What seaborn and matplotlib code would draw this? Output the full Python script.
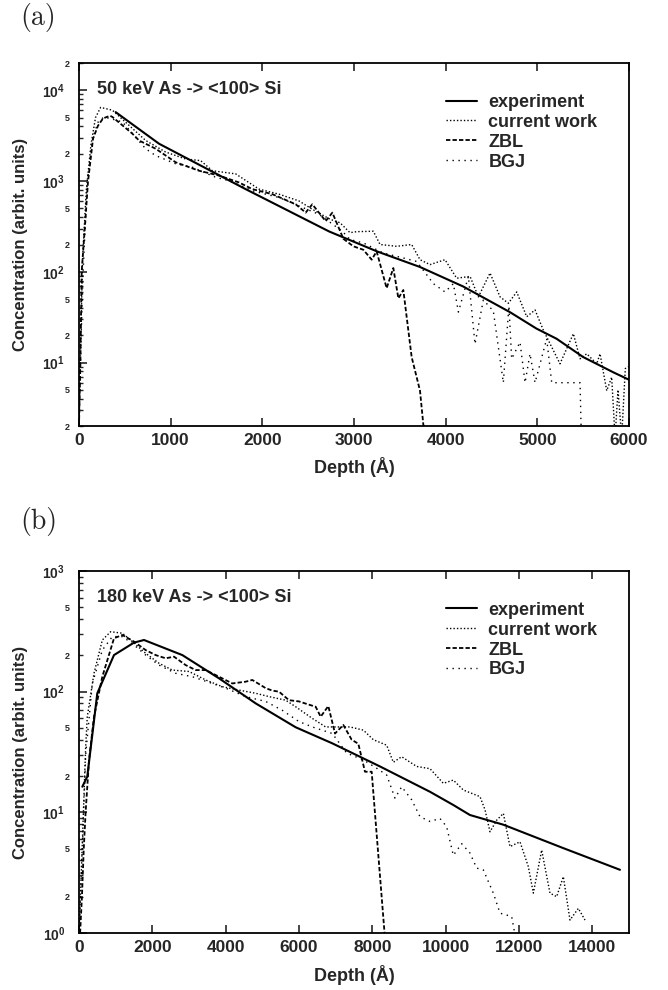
import numpy as np
import matplotlib
matplotlib.use('Agg')
import matplotlib.pyplot as plt
import matplotlib.ticker as mticker
import seaborn as sns

# (a) 50 keV As -> <100> Si
exp_a_depth = [400, 873, 1818, 2730, 3250, 3720, 4190, 4700, 4990, 5210, 5500, 5830, 6010]
exp_a_conc = [5750, 2580, 815, 278, 168, 113, 69, 36, 23.7, 18.3, 11.5, 7.8, 6.4]

cur_a_depth = [0, 20, 40, 80, 130, 180, 236, 364, 545, 727, 945, 1164, 1327, 1455, 1709, 1964, 2182,
               2400, 2545, 2738, 2848, 2956, 3029, 3211, 3284, 3466, 3629, 3720, 3829, 3993, 4120, 4266,
               4357, 4484, 4593, 4684, 4775, 4884, 4975, 5066, 5247, 5393, 5466, 5539, 5648, 5684, 5757,
               5811, 5848, 5880, 5920, 5960, 6000]
cur_a_conc = [2, 20, 150, 800, 2500, 5000, 6480, 6040, 4120, 2800, 2090, 1750, 1680, 1300, 1200, 815, 717,
              604, 489, 380, 347, 270, 277, 280, 200, 191, 200, 136, 120, 136, 85, 89,
              53, 97, 53, 45, 60, 32, 38, 22.7, 9.7, 20.8, 11, 12.5, 9.7, 12.5, 4.9,
              6.9, 1.5, 5, 1.5, 8.6, 9]

zbl_a_depth = [0, 15, 29, 65, 98, 153, 207, 262, 338, 364, 582, 655, 837, 1055, 1309, 1527, 1745, 1891,
               2109, 2364, 2473, 2545, 2691, 2764, 2884, 2993, 3102, 3193, 3247, 3356, 3429, 3484, 3538,
               3629, 3720, 3756, 3790]
zbl_a_conc = [2, 10, 100, 318, 980, 2930, 4070, 4900, 5250, 5090, 3330, 2800, 2270, 1610, 1300, 1150, 966, 815,
              717, 555, 449, 555, 362, 449, 231, 191, 175, 136, 168, 66, 110, 51, 63,
              11.5, 4.9, 2.08, 1.5]

bgj_a_depth = [0, 20, 45, 90, 150, 210, 273, 473, 727, 836, 1055, 1236, 1491, 1636, 1891, 2182, 2400,
               2618, 2873, 2956, 3102, 3320, 3538, 3684, 3866, 3993, 4084, 4139, 4248, 4320, 4411, 4520,
               4629, 4690, 4720, 4811, 4866, 4920, 4975, 5102, 5157, 5466, 5480]
bgj_a_conc = [2, 15, 100, 1000, 3000, 4500, 5090, 4490, 2270, 1910, 1550, 1420, 1100, 1010, 782, 659, 532,
              430, 280, 227, 208, 161, 142, 130, 74, 60, 74, 36, 89, 16, 49, 37,
              6, 42, 11, 16.8, 6, 12.5, 6, 18.3, 6, 6, 1.5]

# (b) 180 keV As -> <100> Si
exp_b_depth = [90, 226, 499, 954, 1500, 1773, 2818, 3818, 4818, 5909, 6909, 8209, 9573, 10209, 10663,
               11572, 13209, 14754]
exp_b_conc = [16.3, 19.8, 97, 201, 255, 268, 201, 129, 80, 50.7, 37.3, 24, 14.8, 11.5, 9.5, 7.9, 5.05, 3.34]

cur_b_depth = [0, 60, 120, 182, 226, 409, 636, 864, 1182, 1455, 1818, 2182, 2545, 3000, 3455, 3909, 4364,
               4818, 5182, 5636, 5909, 6364, 6727, 7027, 7391, 7755, 8027, 8391, 8573, 8800, 9209, 9573,
               9936, 10209, 10482, 10936, 11073, 11209, 11391, 11573, 11754, 12027, 12254, 12391, 12618,
               12845, 13027, 13209, 13391, 13618, 13800]
cur_b_conc = [1.0, 3, 10, 35, 62, 142, 268, 314, 305, 260, 208, 172, 151, 147, 125, 110, 103,
              97, 91, 85, 75, 60, 51, 51, 51, 48, 40, 36, 26, 28.9, 24, 23,
              17.4, 18.5, 15.3, 13.5, 10.5, 6.9, 8.6, 9.8, 5.2, 5.7, 3.55, 2.14, 4.87,
              2.14, 2.0, 2.93, 1.28, 1.6, 1.28]

zbl_b_depth = [30, 80, 130, 180, 230, 273, 409, 636, 955, 1182, 1500, 1818, 2091, 2364, 2591, 2909, 3182,
               3455, 3818, 4182, 4546, 4727, 5091, 5273, 5455, 5727, 6000, 6273, 6455, 6591, 6800, 6982,
               7209, 7436, 7618, 7800, 7982, 8345]
zbl_b_conc = [1.0, 2, 5, 10, 17, 27, 62, 133, 277, 295, 260, 221, 201, 189, 195, 166, 151,
              151, 133, 117, 121, 125, 107, 102, 100, 85, 83, 78, 75, 62, 76, 45,
              53, 40, 37, 21.7, 21.7, 0.9]

bgj_b_depth = [0, 100, 182, 364, 636, 909, 1182, 1455, 1818, 2182, 2636, 3091, 3636, 4000, 4546, 5091,
               5546, 6000, 6364, 6909, 7300, 7755, 8118, 8391, 8618, 8800, 9073, 9300, 9573, 9845, 10027,
               10209, 10436, 10663, 10845, 11027, 11300, 11482, 11800, 11909]
bgj_b_conc = [1.0, 6, 30, 117, 221, 286, 286, 251, 201, 166, 142, 133, 117, 107, 91, 83,
              70, 56.5, 51, 45, 31, 27.2, 23.2, 20.4, 13.1, 16.3, 12.7, 9.2, 8.4, 8.9, 7.6,
              4.4, 5.5, 4.6, 3.45, 3.33, 2.14, 1.46, 1.37, 0.9]

labels = ['experiment', 'current work', 'ZBL', 'BGJ']
xticks_a = [0, 1000, 2000, 3000, 4000, 5000, 6000]
xticks_b = [0, 2000, 4000, 6000, 8000, 10000, 12000, 14000]

sns.set_style('ticks')
plt.rcParams['font.family'] = ['Liberation Sans', 'DejaVu Sans']
plt.rcParams['font.weight'] = 'bold'
plt.rcParams['axes.labelweight'] = 'bold'
plt.rcParams['mathtext.fontset'] = 'custom'
plt.rcParams['mathtext.rm'] = 'Liberation Sans:bold'
plt.rcParams['mathtext.bf'] = 'Liberation Sans:bold'
plt.rcParams['mathtext.it'] = 'Liberation Sans:bold'

styles = [('-', 1.5), ((0, (1, 1.5)), 1.0), ((0, (2.4, 1.2)), 1.3), ((0, (1, 3.3)), 1.0)]


def major_fmt(v, pos):
    return r'$\mathbf{10^{%d}}$' % int(round(np.log10(v)))


def minor_fmt(v, pos):
    m = v / 10 ** np.floor(np.log10(v) + 1e-9)
    d = int(round(m))
    return str(d) if d in (2, 5) else ''


def draw_panel(ax, series, xlim, ylim, xticks, title):
    for (depth, conc), label, (ls, lw) in zip(series, labels, styles):
        sns.lineplot(x=depth, y=conc, ax=ax, color='black', linestyle=ls, linewidth=lw,
                     label=label, estimator=None, sort=False)
    ax.set_yscale('log')
    ax.set_xlim(*xlim)
    ax.set_ylim(*ylim)
    ax.set_xticks(xticks)
    ax.xaxis.set_minor_locator(mticker.NullLocator())
    ax.yaxis.set_major_locator(mticker.LogLocator(base=10, numticks=12))
    ax.yaxis.set_minor_locator(mticker.LogLocator(base=10, subs=np.arange(2, 10), numticks=40))
    ax.yaxis.set_major_formatter(mticker.FuncFormatter(major_fmt))
    ax.yaxis.set_minor_formatter(mticker.FuncFormatter(minor_fmt))
    ax.tick_params(axis='x', which='major', direction='in', top=True, bottom=True,
                   length=6, width=1.2, labelsize=12.5, pad=5)
    ax.tick_params(axis='y', which='major', direction='in', left=True, right=False,
                   length=6, width=1.2, labelsize=10, pad=10)
    ax.tick_params(axis='y', which='minor', direction='in', left=True, right=False,
                   length=3, width=1.0, labelsize=6.5, pad=6.5)
    for s in ax.spines.values():
        s.set_visible(True)
        s.set_linewidth(1.3)
        s.set_color('black')
    ax.set_xlabel('Depth (Å)', fontsize=13)
    ax.set_ylabel('Concentration (arbit. units)', fontsize=12)
    ax.yaxis.set_label_coords(-0.092, 0.5)
    ax.text(0.033, 0.926, title, transform=ax.transAxes, fontsize=13, va='center', ha='left')
    ax.legend(loc='upper left', bbox_to_anchor=(0.667, 0.915), frameon=False, fontsize=13,
              handlelength=1.75, handletextpad=0.6, labelspacing=0.16, borderpad=0,
              borderaxespad=0)


fig = plt.figure(figsize=(6.68, 9.9), dpi=100)
ax_a = fig.add_axes([79 / 668, 1 - 426 / 990, 550 / 668, 363 / 990])
ax_b = fig.add_axes([79 / 668, 1 - 933 / 990, 550 / 668, 362 / 990])

draw_panel(ax_a, [(exp_a_depth, exp_a_conc), (cur_a_depth, cur_a_conc),
                  (zbl_a_depth, zbl_a_conc), (bgj_a_depth, bgj_a_conc)],
           (0, 6000), (2, 2e4), xticks_a, '50 keV As -> <100> Si')
ax_a.xaxis.set_label_coords(0.5, -0.085)

draw_panel(ax_b, [(exp_b_depth, exp_b_conc), (cur_b_depth, cur_b_conc),
                  (zbl_b_depth, zbl_b_conc), (bgj_b_depth, bgj_b_conc)],
           (0, 15000), (1, 1000), xticks_b, '180 keV As -> <100> Si')
ax_b.xaxis.set_label_coords(0.5, -0.088)

fig.text(20 / 668, 1 - 18 / 990, '(a)', family='cmr10', fontsize=20, weight='normal',
         ha='left', va='center')
fig.text(20 / 668, 1 - 522 / 990, '(b)', family='cmr10', fontsize=20, weight='normal',
         ha='left', va='center')

fig.savefig('out.png', dpi=100)
